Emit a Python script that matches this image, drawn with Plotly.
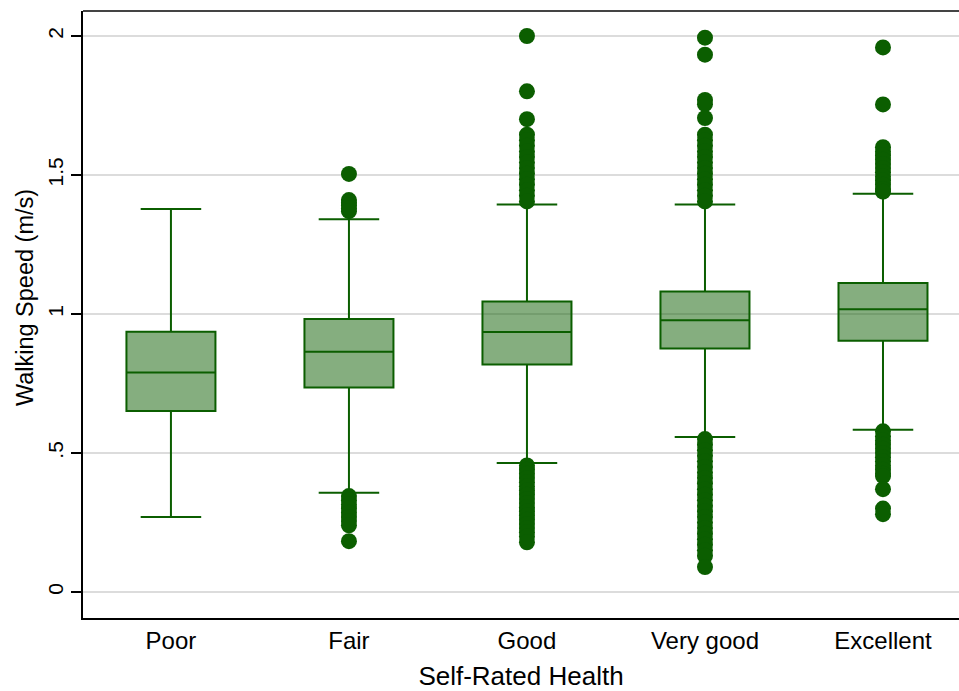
import plotly.graph_objects as go

# ---- data ----
categories = ["Poor", "Fair", "Good", "Very good", "Excellent"]
q1 = [0.651, 0.736, 0.818, 0.876, 0.904]
median = [0.790, 0.864, 0.935, 0.978, 1.017]
q3 = [0.936, 0.982, 1.045, 1.081, 1.112]
lower_whisker = [0.270, 0.357, 0.464, 0.558, 0.584]
upper_whisker = [1.378, 1.341, 1.394, 1.394, 1.433]

outliers_poor = []
outliers_fair = [1.504, 1.41, 1.40, 1.39, 1.38, 1.37,
                 0.345, 0.33, 0.315, 0.30, 0.285, 0.27, 0.255, 0.24, 0.183]
outliers_good = [2.0, 1.801, 1.701, 1.645, 1.625, 1.605, 1.585, 1.565, 1.545, 1.525,
                 1.505, 1.485, 1.465, 1.445, 1.425, 1.405,
                 0.455, 0.44, 0.425, 0.41, 0.395, 0.38, 0.365, 0.35, 0.335, 0.32,
                 0.305, 0.29, 0.275, 0.26, 0.245, 0.23, 0.215, 0.20, 0.179]
outliers_verygood = [1.994, 1.933, 1.77, 1.755, 1.705, 1.645, 1.625, 1.605, 1.585, 1.565,
                     1.545, 1.525, 1.505, 1.485, 1.465, 1.445, 1.425, 1.405,
                     0.55, 0.53, 0.51, 0.49, 0.47, 0.45, 0.43, 0.41, 0.39, 0.37, 0.35,
                     0.33, 0.31, 0.29, 0.27, 0.25, 0.23, 0.21, 0.19, 0.17, 0.15, 0.13, 0.09]
outliers_excellent = [1.959, 1.754, 1.60, 1.585, 1.57, 1.555, 1.54, 1.525, 1.51, 1.495,
                      1.48, 1.465, 1.45, 1.44,
                      0.578, 0.56, 0.545, 0.53, 0.515, 0.50, 0.485, 0.47, 0.455, 0.44,
                      0.425, 0.417, 0.37, 0.30, 0.28]
outlier_lists = [outliers_poor, outliers_fair, outliers_good, outliers_verygood, outliers_excellent]

y_tick_vals = [0, 0.5, 1, 1.5, 2]
y_tick_text = ["0", ".5", "1", "1.5", "2"]
x_title = "Self-Rated Health"
y_title = "Walking Speed (m/s)"

# ---- styling ----
DARK = "#0B5E00"
FILL = "rgba(11,94,0,0.5)"
FONT = "Liberation Sans, Arial, Helvetica, sans-serif"

idx = list(range(len(categories)))

fig = go.Figure()
fig.add_trace(go.Box(
    x=idx, q1=q1, median=median, q3=q3,
    lowerfence=lower_whisker, upperfence=upper_whisker,
    width=0.5, whiskerwidth=0.68,
    fillcolor=FILL, line=dict(color=DARK, width=2),
    boxpoints=False, showlegend=False, hoverinfo="skip",
))

ox, oy = [], []
for i, vals in enumerate(outlier_lists):
    ox += [i] * len(vals)
    oy += vals
fig.add_trace(go.Scatter(
    x=ox, y=oy, mode="markers",
    marker=dict(color=DARK, size=16, line=dict(width=0)),
    showlegend=False, hoverinfo="skip",
))

fig.update_layout(
    width=959, height=691,
    margin=dict(l=83, r=0, t=11, b=73),
    paper_bgcolor="white", plot_bgcolor="white",
    font=dict(family=FONT, color="black", size=22),
    xaxis=dict(
        range=[-0.494, 4.427], tickvals=idx, ticktext=categories,
        showgrid=False, zeroline=False, ticks="",
        showline=True, linecolor="black", linewidth=2,
        tickfont=dict(size=24), ticklabelstandoff=0,
        title=dict(text=x_title, font=dict(size=26), standoff=14),
    ),
    yaxis=dict(
        range=[-0.0935, 2.090], tickvals=y_tick_vals, ticktext=y_tick_text,
        tickangle=-90, showgrid=True, gridcolor="#DCDCDC", gridwidth=1.5,
        zeroline=False, ticks="outside", ticklen=10, tickcolor="black", tickwidth=1.5,
        showline=True, linecolor="black", linewidth=2,
        tickfont=dict(size=21),
    ),
    annotations=[dict(text=y_title, textangle=-90, xref="paper", yref="paper",
                      x=-0.0662, y=0.527, xanchor="center", yanchor="middle",
                      showarrow=False, font=dict(size=23.5))],
    shapes=[dict(type="line", xref="paper", yref="paper", x0=0, x1=1, y0=1, y1=1,
                 line=dict(color="#444444", width=2))],
)

fig.write_html(
    "out.html",
    config={"displayModeBar": False},
    post_script="document.body.style.margin='0';document.body.style.overflow='hidden';",
)
